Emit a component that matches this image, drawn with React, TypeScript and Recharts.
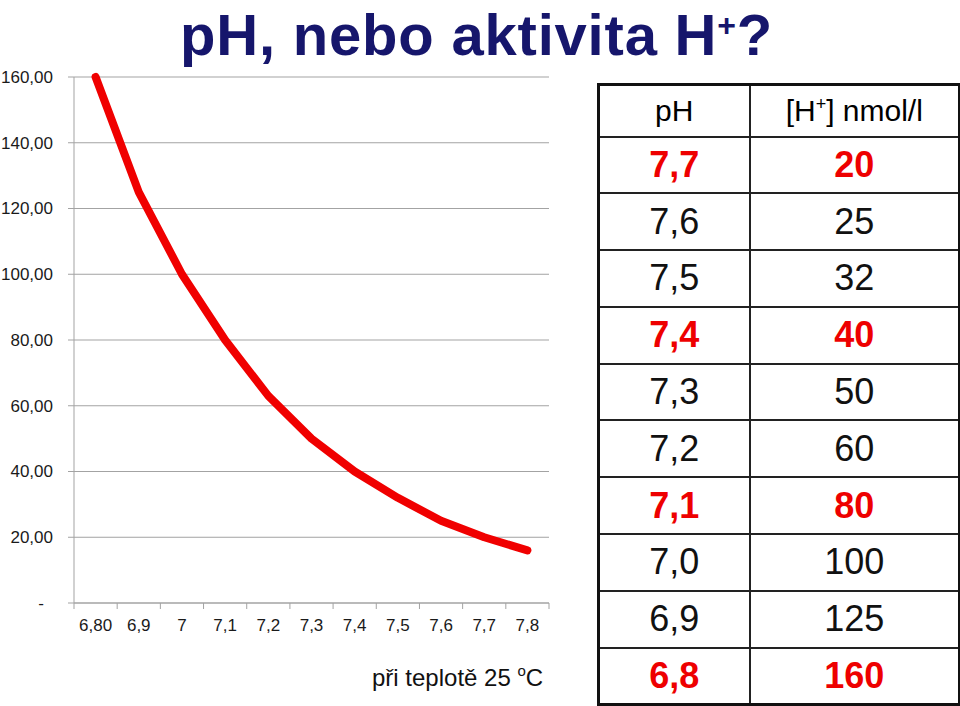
import { LineChart, Line, XAxis, YAxis, CartesianGrid } from "recharts";

// chart: [H+] in nmol/l against pH
const phLabels = ["6,80", "6,9", "7", "7,1", "7,2", "7,3", "7,4", "7,5", "7,6", "7,7", "7,8"];
const hValues = [160, 125, 100, 80, 63, 50, 40, 32, 25, 20, 16];
const yTicks = [0, 20, 40, 60, 80, 100, 120, 140, 160];

// table on the right
const tablePh = ["7,7", "7,6", "7,5", "7,4", "7,3", "7,2", "7,1", "7,0", "6,9", "6,8"];
const tableH = [20, 25, 32, 40, 50, 60, 80, 100, 125, 160];
const tableBold = [true, false, false, true, false, false, true, false, false, true];

const data = phLabels.map((ph, i) => ({ ph, h: hValues[i] }));

const FONT = "'Liberation Sans', Arial, sans-serif";
const CHART_W = 560;
const CHART_H = 706;
const MARGIN = { top: 77, right: 11, left: 0, bottom: 73 };
const Y_AXIS_W = 74;
const BAND = (CHART_W - Y_AXIS_W - MARGIN.right) / phLabels.length;
const AXIS_GRAY = "#a3a3a3";

function XTick(props: any) {
  const { x, y, payload } = props;
  const idx = payload.index ?? props.index;
  const axisY = y - 16;
  const half = BAND / 2;
  return (
    <g>
      <line x1={x - half} x2={x - half} y1={axisY} y2={axisY + 6} stroke={AXIS_GRAY} />
      {idx === phLabels.length - 1 && (
        <line x1={x + half} x2={x + half} y1={axisY} y2={axisY + 6} stroke={AXIS_GRAY} />
      )}
      <text x={x} y={y} dy="0.71em" textAnchor="middle" fontSize={17} fill="#1a1a1a" fontFamily={FONT}>
        {payload.value}
      </text>
    </g>
  );
}

function YTick(props: any) {
  const { x, y, payload } = props;
  const v = payload.value as number;
  if (v === 0) {
    return (
      <text x={x - 12} y={y} dy="0.35em" textAnchor="middle" fontSize={17} fill="#1a1a1a" fontFamily={FONT}>
        -
      </text>
    );
  }
  return (
    <text x={x} y={y} dy="0.35em" textAnchor="end" fontSize={17} fill="#1a1a1a" fontFamily={FONT}>
      {v.toFixed(2).replace(".", ",")}
    </text>
  );
}

const cellBase: React.CSSProperties = {
  border: "2px solid #222",
  textAlign: "center",
  verticalAlign: "middle",
  padding: 0,
};

export default function App() {
  return (
    <div style={{ position: "absolute", left: 0, top: 0, width: 960, height: 706, background: "#fff", fontFamily: FONT }}>
      <LineChart width={CHART_W} height={CHART_H} data={data} margin={MARGIN}>
        <CartesianGrid vertical={false} stroke={AXIS_GRAY} />
        <XAxis
          dataKey="ph"
          interval={0}
          height={30}
          padding={{ left: BAND / 2, right: BAND / 2 }}
          tickLine={false}
          tickSize={6}
          tickMargin={10}
          stroke={AXIS_GRAY}
          tick={<XTick />}
        />
        <YAxis
          width={Y_AXIS_W}
          domain={[0, 160]}
          ticks={yTicks}
          tickSize={6}
          tickMargin={15}
          stroke={AXIS_GRAY}
          tick={<YTick />}
        />
        <Line
          type="linear"
          dataKey="h"
          stroke="#f00000"
          strokeWidth={8}
          strokeLinecap="round"
          strokeLinejoin="round"
          dot={false}
          isAnimationActive={false}
        />
      </LineChart>

      <svg width={960} height={706} style={{ position: "absolute", left: 0, top: 0, pointerEvents: "none" }}>
        <text x={180} y={55} fontSize={58} letterSpacing={0.8} fontWeight="bold" fill="#16166c" fontFamily={FONT}>
          pH, nebo aktivita H
          <tspan fontSize={32} dy={-19}>+</tspan>
          <tspan dy={19}>?</tspan>
        </text>
        <text x={372} y={686} fontSize={24} fill="#111" fontFamily={FONT}>
          při teplotě 25{" "}
          <tspan fontSize={15} dy={-10}>o</tspan>
          <tspan dy={10}>C</tspan>
        </text>
      </svg>

      <table
        style={{
          position: "absolute",
          left: 597,
          top: 83,
          width: 361,
          height: 620,
          borderCollapse: "collapse",
          border: "3px solid #111",
          tableLayout: "fixed",
        }}
      >
        <colgroup>
          <col style={{ width: 151 }} />
          <col style={{ width: 210 }} />
        </colgroup>
        <tbody>
          <tr style={{ height: 52 }}>
            <td style={{ ...cellBase, fontSize: 30 }}>pH</td>
            <td style={{ ...cellBase, fontSize: 30 }}>
              [H<sup style={{ fontSize: 18, verticalAlign: "11px" }}>+</sup>] nmol/l
            </td>
          </tr>
          {tablePh.map((ph, i) => {
            const style: React.CSSProperties = {
              ...cellBase,
              fontSize: 36,
              color: tableBold[i] ? "#ee0000" : "#111",
              fontWeight: tableBold[i] ? "bold" : "normal",
            };
            return (
              <tr key={ph} style={{ height: 56.8 }}>
                <td style={style}>{ph}</td>
                <td style={style}>{tableH[i]}</td>
              </tr>
            );
          })}
        </tbody>
      </table>
    </div>
  );
}
